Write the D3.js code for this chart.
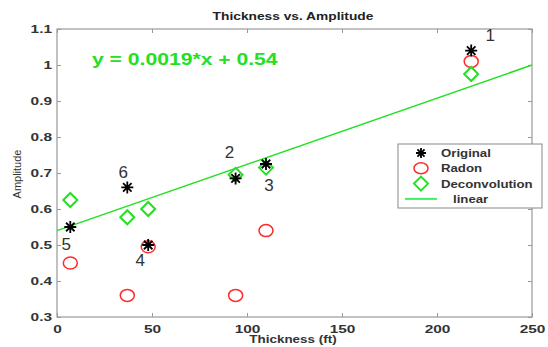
<!DOCTYPE html>
<html>
<head>
<meta charset="utf-8">
<script src="https://cdn.jsdelivr.net/npm/d3@7"></script>
<style>
  body { margin: 0; background: #fff; }
  svg { display: block; font-family: "Liberation Sans", Arial, sans-serif; }
</style>
</head>
<body>
<div id="chart"></div>
<script>
// Thickness (ft) vs Amplitude, three methods plus a linear fit
var wellIds      = ["1", "2", "3", "4", "5", "6"];
var thickness    = [218, 94, 110, 48, 7, 37];
var original     = [1.04, 0.685, 0.725, 0.50, 0.55, 0.66];
var radon        = [1.01, 0.36, 0.54, 0.495, 0.45, 0.36];
var deconvolution = [0.975, 0.695, 0.715, 0.60, 0.625, 0.577];
var fitSlope = 0.00184, fitIntercept = 0.54;
var fitLabel = "y = 0.0019*x + 0.54";
var xTicks = [0, 50, 100, 150, 200, 250];
var yTicks = [0.3, 0.4, 0.5, 0.6, 0.7, 0.8, 0.9, 1, 1.1];
var legendItems = ["Original", "Radon", "Deconvolution", "linear"];

var W = 548, H = 347;
var margin = { top: 29, right: 16, bottom: 30, left: 57 };
var width = W - margin.left - margin.right;
var height = H - margin.top - margin.bottom;

var svg = d3.select("#chart").append("svg")
    .attr("width", W)
    .attr("height", H);

var g = svg.append("g")
    .attr("transform", "translate(" + margin.left + "," + margin.top + ")");

var x = d3.scaleLinear().domain([0, 250]).range([0, width]);
var y = d3.scaleLinear().domain([0.3, 1.1]).range([height, 0]);

var axisColor = "#999";
var labelColor = "#333";
var green = "#22e022";

// the original picture is a bit wide, so the text is stretched sideways
function stretch(sel, factor) {
    sel.each(function () {
        var len = this.getComputedTextLength();
        d3.select(this)
            .attr("textLength", len * factor)
            .attr("lengthAdjust", "spacingAndGlyphs");
    });
}

// axes (box with inward ticks)
function styleAxis(sel) {
    sel.select(".domain").remove();
    sel.selectAll(".tick line").attr("stroke", axisColor);
    sel.selectAll(".tick text")
        .attr("fill", labelColor)
        .attr("font-size", "11px")
        .attr("font-weight", "bold")
        .call(stretch, 1.4);
}

g.append("g")
    .attr("transform", "translate(0," + height + ")")
    .call(d3.axisBottom(x).tickValues(xTicks).tickSize(-4).tickPadding(8).tickFormat(d3.format("d")))
    .call(styleAxis);

g.append("g")
    .call(d3.axisLeft(y).tickValues(yTicks).tickSize(-4).tickPadding(5).tickFormat(function (d) { return String(+d.toFixed(1)); }))
    .call(styleAxis);

g.append("g")
    .call(d3.axisTop(x).tickValues(xTicks).tickSize(-4).tickFormat(""))
    .call(styleAxis);

g.append("g")
    .attr("transform", "translate(" + width + ",0)")
    .call(d3.axisRight(y).tickValues(yTicks).tickSize(-4).tickFormat(""))
    .call(styleAxis);

g.append("rect")
    .attr("width", width)
    .attr("height", height)
    .attr("fill", "none")
    .attr("stroke", axisColor)
    .attr("stroke-width", 1.2);

// linear fit
g.append("line")
    .attr("x1", x(0)).attr("y1", y(fitIntercept))
    .attr("x2", x(250)).attr("y2", y(fitIntercept + fitSlope * 250))
    .attr("stroke", green)
    .attr("stroke-width", 1.5);

// markers
function star(r) {
    var p = "";
    for (var i = 0; i < 4; i++) {
        var a = i * Math.PI / 4;
        p += "M" + (-r * Math.cos(a)) + "," + (-r * Math.sin(a)) + "L" + (r * Math.cos(a)) + "," + (r * Math.sin(a));
    }
    return p;
}
var diamond = "M0,-7L7,0L0,7L-7,0Z";

var pts = thickness.map(function (t, i) {
    return { t: t, o: original[i], r: radon[i], d: deconvolution[i], id: wellIds[i] };
});

g.selectAll(".radon").data(pts).enter().append("ellipse")
    .attr("class", "radon")
    .attr("cx", function (d) { return x(d.t); })
    .attr("cy", function (d) { return y(d.r); })
    .attr("rx", 7).attr("ry", 6)
    .attr("fill", "none")
    .attr("stroke", "#ff2a2a")
    .attr("stroke-width", 1.5);

g.selectAll(".decon").data(pts).enter().append("path")
    .attr("class", "decon")
    .attr("transform", function (d) { return "translate(" + x(d.t) + "," + y(d.d) + ")"; })
    .attr("d", diamond)
    .attr("fill", "none")
    .attr("stroke", green)
    .attr("stroke-width", 2);

g.selectAll(".orig").data(pts).enter().append("path")
    .attr("class", "orig")
    .attr("transform", function (d) { return "translate(" + x(d.t) + "," + y(d.o) + ")"; })
    .attr("d", star(6))
    .attr("stroke", "#000")
    .attr("stroke-width", 1.8);

// point numbers, offset from the Original marker
var idOffsets = [[19, -15], [-6, -26], [3, 21], [-8, 15], [-4, 17], [-4, -15]];
g.selectAll(".pid").data(pts).enter().append("text")
    .attr("class", "pid")
    .attr("x", function (d, i) { return x(d.t) + idOffsets[i][0]; })
    .attr("y", function (d, i) { return y(d.o) + idOffsets[i][1]; })
    .attr("text-anchor", "middle")
    .attr("dominant-baseline", "central")
    .attr("font-size", "17px")
    .attr("fill", "#333")
    .text(function (d) { return d.id; });

// fit equation
g.append("text")
    .attr("x", 35)
    .attr("y", 36)
    .attr("font-size", "16px")
    .attr("font-weight", "bold")
    .attr("fill", green)
    .text(fitLabel)
    .call(stretch, 1.32);

// titles
svg.append("text")
    .attr("x", 293).attr("y", 20)
    .attr("text-anchor", "middle")
    .attr("font-size", "11px")
    .attr("font-weight", "bold")
    .attr("fill", "#222")
    .text("Thickness vs. Amplitude")
    .call(stretch, 1.25);

svg.append("text")
    .attr("x", 293).attr("y", 343)
    .attr("text-anchor", "middle")
    .attr("font-size", "11px")
    .attr("font-weight", "bold")
    .attr("fill", labelColor)
    .text("Thickness (ft)")
    .call(stretch, 1.22);

svg.append("text")
    .attr("transform", "translate(21,174) rotate(-90)")
    .attr("text-anchor", "middle")
    .attr("font-size", "11px")
    .attr("fill", labelColor)
    .text("Amplitude");

// legend
var legend = svg.append("g").attr("transform", "translate(398,144)");
legend.append("rect")
    .attr("width", 144).attr("height", 64)
    .attr("fill", "#fff")
    .attr("stroke", "#888");

var rows = legend.selectAll(".row").data(legendItems).enter().append("g")
    .attr("transform", function (d, i) { return "translate(0," + (9 + i * 15.3) + ")"; });

rows.append("text")
    .attr("x", function (d, i) { return i === 3 ? 55 : 43; })
    .attr("y", 0)
    .attr("dominant-baseline", "central")
    .attr("font-size", "11px")
    .attr("font-weight", "bold")
    .attr("fill", labelColor)
    .text(function (d) { return d; })
    .call(stretch, 1.2);

rows.filter(function (d, i) { return i === 0; }).append("path")
    .attr("transform", "translate(23,0)")
    .attr("d", star(5))
    .attr("stroke", "#000").attr("stroke-width", 1.8);
rows.filter(function (d, i) { return i === 1; }).append("ellipse")
    .attr("cx", 23).attr("rx", 7).attr("ry", 5.5)
    .attr("fill", "none").attr("stroke", "#ff2a2a").attr("stroke-width", 1.5);
rows.filter(function (d, i) { return i === 2; }).append("path")
    .attr("transform", "translate(23,0)")
    .attr("d", diamond)
    .attr("fill", "none").attr("stroke", green).attr("stroke-width", 2);
rows.filter(function (d, i) { return i === 3; }).append("line")
    .attr("x1", 7).attr("x2", 39)
    .attr("stroke", "#44ee66").attr("stroke-width", 2);
</script>
</body>
</html>
